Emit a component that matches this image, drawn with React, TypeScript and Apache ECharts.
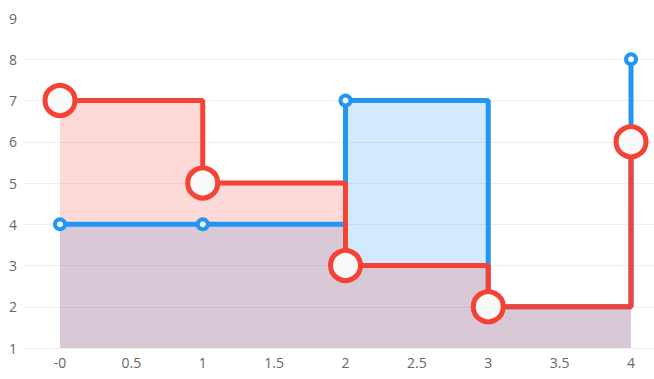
import React, { useEffect, useRef } from "react";
import * as echarts from "echarts";

const xValues = [0, 1, 2, 3, 4];
const blueValues = [4, 4, 7, 2, 8];
const redValues = [7, 5, 3, 2, 6];
const xLabelValues = [0, 0.5, 1, 1.5, 2, 2.5, 3, 3.5, 4];

const BLUE = "#2196f3";
const RED = "#f44336";

export default function App() {
  const ref = useRef<HTMLDivElement>(null);
  useEffect(() => {
    if (!ref.current) return;
    const chart = echarts.init(ref.current, undefined, { renderer: "svg" });
    chart.setOption({
      animation: false,
      grid: { left: 24, top: 18, right: 0, bottom: 31, outerBoundsMode: "none" },
      xAxis: {
        type: "value",
        min: -0.252,
        max: 4.161,
        axisLine: { show: false },
        axisTick: { show: false },
        splitLine: { show: false },
        axisLabel: {
          customValues: xLabelValues,
          color: "#666",
          fontSize: 14,
          fontFamily: "Open Sans",
          margin: 7,
          formatter: (v: number) => (v === 0 ? "-0" : String(v)),
        },
      },
      yAxis: {
        type: "value",
        min: 1,
        max: 9,
        interval: 1,
        axisLine: { show: false },
        axisTick: { show: false },
        splitLine: { show: true, showMaxLine: false, lineStyle: { color: "#eeeeee" } },
        axisLabel: { color: "#666", fontSize: 14, fontFamily: "Open Sans", margin: 7 },
      },
      series: [
        {
          type: "line",
          step: "end",
          data: xValues.map((x, i) => [x, blueValues[i]]),
          symbol: "circle",
          symbolSize: 10,
          itemStyle: { color: "#ffffff", borderColor: BLUE, borderWidth: 4 },
          lineStyle: { color: BLUE, width: 5 },
          areaStyle: { color: BLUE, opacity: 0.2 },
        },
        {
          type: "line",
          step: "end",
          data: xValues.map((x, i) => [x, redValues[i]]),
          symbol: "circle",
          symbolSize: 30,
          itemStyle: { color: "#f9f9f9", borderColor: RED, borderWidth: 5 },
          lineStyle: { color: RED, width: 5 },
          areaStyle: { color: RED, opacity: 0.2 },
        },
      ],
    });
    return () => chart.dispose();
  }, []);
  return (
    <div
      ref={ref}
      style={{ position: "absolute", left: 0, top: 0, width: 654, height: 379 }}
    />
  );
}
